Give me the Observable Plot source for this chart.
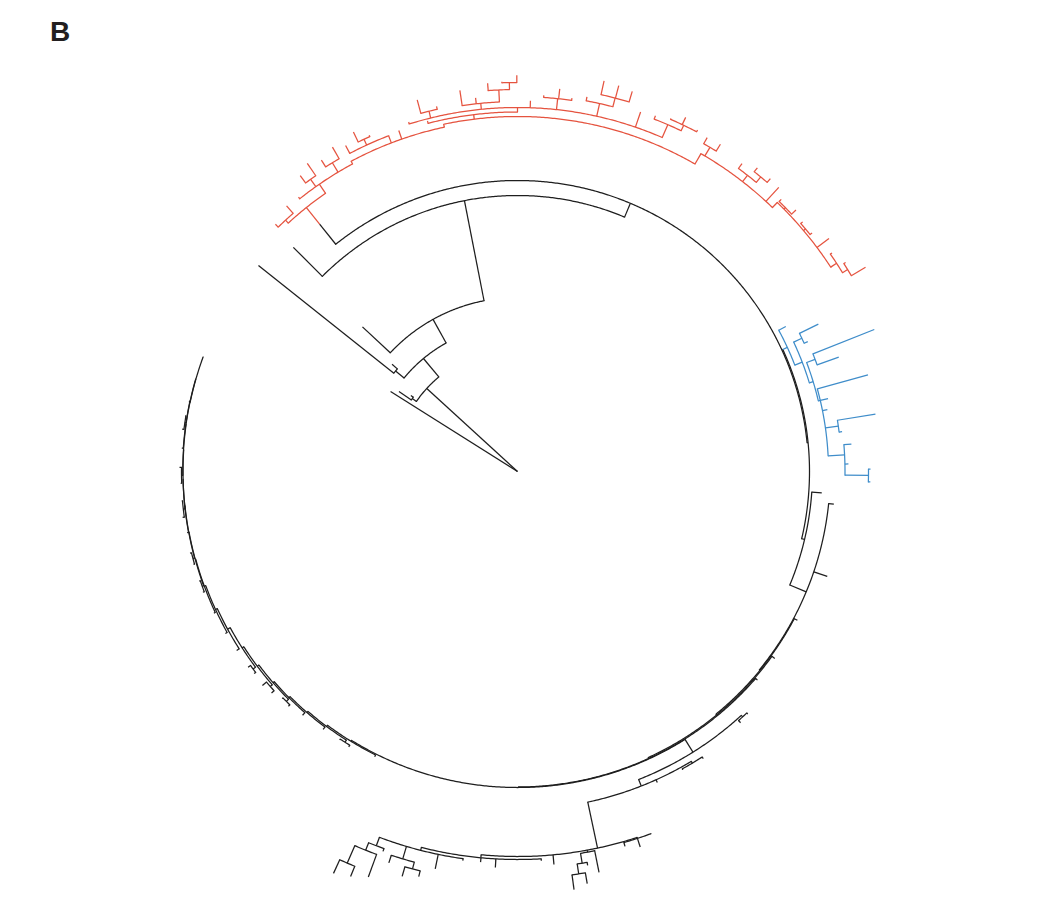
<!DOCTYPE html>
<html><head><meta charset="utf-8">
<script src="https://cdn.jsdelivr.net/npm/d3@7"></script>
<script src="https://cdn.jsdelivr.net/npm/@observablehq/plot@0.6"></script>
<style>
html,body{margin:0;padding:0;background:#fff;}
#wrap{position:relative;width:1044px;height:899px;overflow:hidden;}
#label{position:absolute;left:50px;top:18px;font:bold 28px/28px "Liberation Sans",Arial,sans-serif;color:#231f20;}
</style></head><body>
<div id="wrap"><div id="label">B</div></div>
<script>
// ---- tree data ----
// leaf: [angle (deg, clockwise from north), tip radius]
// internal node: {r: node radius, k: [children], a?: attachment angle, c?: clade colour key}
const palette = {black: "#1e1e1e", red: "#e5533f", blue: "#3f8dca"};

const redClade = {r: 338, c: "red", mix: true, k: [
  {r: 342, k: [[-44.4, 346], [-41, 352]]},
  {r: 349, a: -34.6, k: [
    [-38.6, 351],
    {r: 358, k: [[-36.3, 367], [-34.3, 373]]},
    {r: 360, k: [[-32.2, 368], [-29.7, 373.5]]},
    {r: 352, a: -28.2, k: [
      {r: 359.6, a: -21, k: [[-27.8, 368.6], {r: 366, k: [[-25.8, 377], [-23.8, 367.5]]}]},
      [-19.2, 361],
      {r: 355, a: -12, k: [
        {r: 359.5, a: -7, k: [[-14.4, 362], "topArc"]},
        "rightArc"
      ]}
    ]}
  ]}
]};

const redTop = {r: 364, a: 0, k: [
  [-17.3, 366],
  {r: 371, k: [[-15.1, 385], [-12.5, 374]]},
  {r: 370, k: [[-8.6, 385.4], [-6.4, 376], {r: 382, k: [[-4.4, 389.4], {r: 389, k: [[-2.3, 390], [-0.1, 396.3]]}]}]},
  [2, 371],
  {r: 375, k: [[4, 377], [6.3, 385], [8.3, 377.3]]},
  {r: 377, k: [[10.5, 381], {r: 386, k: [[12.5, 400], [14.7, 399], [16.8, 397]]}]},
  [18.9, 380],
  {r: 378, k: [[21.2, 381.5], {r: 384, k: [[23.5, 385], [25.4, 392], [27.8, 386]]}]}
]};

const redRight = {r: 367, a: 30, k: [
  {r: 377, k: [[29.6, 384], [31.8, 385]]},
  {r: 375, k: [[36.1, 381], {r: 382, k: [[38.3, 387], [40.8, 387]]}]},
  [42.6, 386],
  {r: 374, a: 44, k: [
    {r: 376, k: [[44.1, 379], [46.8, 382]]},
    {r: 376.5, k: [[48.8, 379], [51, 379]]},
    [53.2, 389],
    {r: 381, k: [[55.2, 383], {r: 387, k: [[57.5, 389], [59.6, 403.5]]}]}
  ]}
]};

const blueClade = {r: 297, c: "blue", k: [
  [61.6, 305],
  {r: 305, k: [
    {r: 314, k: [[63.9, 335], [65.9, 318]]},
    {r: 309, a: 73.1, k: [
      {r: 318, k: [[68.3, 384], [70.4, 341]]},
      {r: 311, a: 76.8, k: [
        [74.6, 363.5], [76.8, 319], [78.7, 316],
        {r: 324, k: [[80.9, 362.5], [83, 327]]},
        {r: 327.5, a: 87.1, k: [[85.3, 335], [88.7, 331], {r: 351, k: [[89.6, 353], [91.7, 353]]}]}
      ]}
    ]}
  ]}
]};

const lowerClade = {r: 331, k: [
  {r: 333, k: [[136.5, 334.5], [138.4, 336]]},
  {r: 338, k: [
    {r: 340, k: [[147.1, 342], [151, 341]]},
    [155.8, 341],
    {r: 385, a: 168, k: [
      {r: 386, k: [[159.8, 386.5], [161.9, 395], [164, 390]]},
      {r: 387, k: [[168.5, 409], {r: 397, k: [[169.9, 400], {r: 407, k: [[170.4, 418], [172.3, 422]]}]}]},
      [174.7, 394.7],
      {r: 388, k: [[176.5, 390], [183.2, 396.6], [185.4, 392.4],
        {r: 391, k: [[188, 393], [191.7, 405.7],
          {r: 404, k: [{r: 411, k: [[193.7, 417], [195.9, 421]]}, [198.2, 412]]},
          {r: 400, k: [[199.5, 403], {r: 408, k: [[200.2, 432], {r: 427, k: [[202.4, 438], [204.6, 442]]}]}]}
        ]}
      ]}
    ]}
  ]}
]};

// main ring (caterpillar) : radius of each successive node and its side branches
const spineRadii = [292, 295, 312.8, 313.5, 314.5, 315.5, 316, 317, 318.5, 320, 321.5, 323, 325, 327, 330, 332, 333.5, 334, 334.3, 334.5, 334.5, 334.7, 335, 334.8, 334.6];
const spineSides = [
  ["blue"], [[94, 305]], [[95.9, 318], [108.7, 327]], [[118, 317]], [[126, 318]], [[131, 318]], ["lower"],
  [[206.6, 319]], [{r: 321, k: [[211.5, 323], [213.5, 322]]}], [[217, 323]], [[221.4, 325]],
  [{r: 326, k: [[224.3, 328], [226, 327]]}], [{r: 327.6, k: [[228, 331], [230, 333]]}], [{r: 330, k: [[232.5, 332], [234, 333]]}],
  [[237.5, 333]], [[241, 334]], [[245, 335]], [{r: 335.5, k: [[249, 337], [251, 336.5]]}], [{r: 336, k: [[254, 337], [256, 337.5]]}],
  [[259.5, 336]], [{r: 336.3, k: [[262.2, 338], [265, 337]]}], [{r: 336, k: [[268, 337], [270.7, 338]]}], [[274, 336.5]],
  [{r: 336.2, k: [[277.2, 338], [279.5, 337]]}], [[282, 336], [290, 334.8]]
];

const crownRadius = 291;
const coreClade = {r: 0, c: "black", k: [
  [-57.8, 150],
  {r: 123, k: [
    {r: 128, k: [[-56, 143], [-54.5, 131]]},
    {r: 147, k: [
      {r: 158, k: [[-51.5, 331], [-49.5, 165]]},
      {r: 174, k: [[-47, 212], {r: 276, k: [[-45, 317], "crown"]}]}
    ]}
  ]}
]};

// ---- build ----
let spineTree = null;
for (let i = spineRadii.length - 1; i >= 0; i--) {
  const kids = spineSides[i].slice();
  if (spineTree) kids.push(spineTree);
  spineTree = {r: spineRadii[i], k: kids};
}
const refs = {
  crown: {r: crownRadius, k: ["red", "spine"]},
  red: redClade, spine: spineTree, blue: blueClade, lower: lowerClade,
  topArc: redTop, rightArc: redRight
};

const arcPts = [], stems = [];
const rad = d => d * Math.PI / 180;
const px = (r, a) => r * Math.sin(rad(a));
const py = (r, a) => r * Math.cos(rad(a));
let arcId = 0;
function pushArc(r, lo, hi, col) {
  const n = Math.max(2, Math.ceil((hi - lo) / 0.3) + 1);
  const id = arcId++;
  for (let i = 0; i < n; i++) {
    const a = lo + (hi - lo) * i / (n - 1);
    arcPts.push({id, x: px(r, a), y: py(r, a), col});
  }
}
function pushStem(r1, r2, a, col) {
  stems.push({x1: px(r1, a), y1: py(r1, a), x2: px(r2, a), y2: py(r2, a), col});
}
function place(node, col) {
  if (typeof node === "string") node = refs[node];
  if (Array.isArray(node)) return {angle: node[0], r: node[1], col, mix: false};
  const c = node.c ? palette[node.c] : col;
  const kids = node.k.map(ch => place(ch, c));
  const angle = node.a ?? (kids[0].angle + kids[kids.length - 1].angle) / 2;
  if (node.r > 0) {
    const as = kids.map(k => k.angle).concat([angle]);
    pushArc(node.r, Math.min(...as), Math.max(...as), c);
  }
  for (const k of kids) {
    if (k.mix) {
      const m = node.r + 0.55 * (k.r - node.r);
      pushStem(node.r, m, k.angle, c);
      pushStem(m, k.r, k.angle, k.col);
    } else pushStem(node.r, k.r, k.angle, k.col);
  }
  return {angle, r: node.r, col: c, mix: !!node.mix};
}
place(coreClade, palette.black);

const chart = Plot.plot({
  width: 1044, height: 899, margin: 0, inset: 0,
  x: {domain: [-517, 527], axis: null},
  y: {domain: [-428, 471], axis: null},
  color: {type: "identity"},
  style: {background: "#fff"},
  marks: [
    Plot.line(arcPts, {x: "x", y: "y", z: "id", stroke: "col", strokeWidth: 1.25, curve: "linear"}),
    Plot.link(stems, {x1: "x1", y1: "y1", x2: "x2", y2: "y2", stroke: "col", strokeWidth: 1.25})
  ]
});
document.getElementById("wrap").appendChild(chart);
</script></body></html>
